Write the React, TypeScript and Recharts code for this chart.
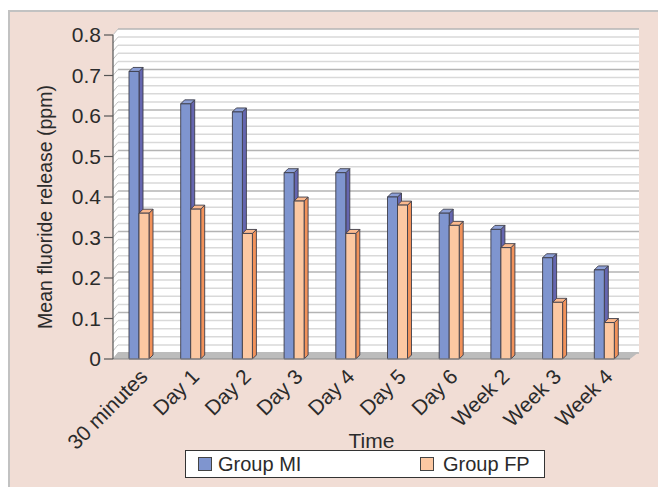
import { Bar, BarChart, Legend, ReferenceArea, ReferenceLine, XAxis, YAxis } from "recharts";

const categories = ["30 minutes", "Day 1", "Day 2", "Day 3", "Day 4", "Day 5", "Day 6", "Week 2", "Week 3", "Week 4"];
const groupMI = [0.71, 0.63, 0.61, 0.46, 0.46, 0.4, 0.36, 0.32, 0.25, 0.22];
const groupFP = [0.36, 0.37, 0.31, 0.39, 0.31, 0.38, 0.33, 0.275, 0.14, 0.09];
const yTicks = [0, 0.1, 0.2, 0.3, 0.4, 0.5, 0.6, 0.7, 0.8];
// minor gridlines every 0.02
const gridValues = Array.from({ length: 41 }, (_, i) => +(i * 0.02).toFixed(2));

const data = categories.map((name, i) => ({ name, mi: groupMI[i], fp: groupFP[i] }));

const FONT = "'Liberation Sans', Arial, sans-serif";
const BG = "#f1ddd5";
const WALL_X = 5;
const WALL_Y = 6;
const WALL_R = 9;

const bar3d = (front: string, side: string, top: string) => (props: any) => {
	const { x, y, width, height } = props;
	if (!height || height <= 0) return <g />;
	const d = 4;
	return (
		<g stroke="#3d3d4a" strokeWidth={0.9} strokeLinejoin="round">
			<polygon
				points={`${x + width},${y} ${x + width + d},${y - d} ${x + width + d},${y + height - d} ${x + width},${y + height}`}
				fill={side}
			/>
			<polygon
				points={`${x},${y} ${x + d},${y - d} ${x + width + d},${y - d} ${x + width},${y}`}
				fill={top}
			/>
			<rect x={x} y={y} width={width} height={height} fill={front} />
		</g>
	);
};

const Walls = (props: any) => {
	const { x, y, width, height } = props;
	return (
		<g>
			<polygon
				points={`${x},${y + height} ${x},${y} ${x + WALL_X},${y - WALL_Y} ${x + WALL_X},${y + height - WALL_Y}`}
				fill="#ffffff"
			/>
			<rect x={x + WALL_X} y={y - WALL_Y} width={width - WALL_X + WALL_R} height={height} fill="#ffffff" />
		</g>
	);
};

const gridLine = (major: boolean) => (props: any) => {
	const { x1, y1, x2 } = props;
	return (
		<g>
			<line x1={x1 + WALL_X} y1={y1 - WALL_Y} x2={x2 + WALL_R} y2={y1 - WALL_Y} stroke={major ? "#b4b4b4" : "#d9d9d9"} strokeWidth={1.5} />
			<line x1={x1} y1={y1} x2={x1 + WALL_X} y2={y1 - WALL_Y} stroke="#c4c4c4" strokeWidth={1} />
		</g>
	);
};

const Floor = (props: any) => {
	const { x1, y1, x2 } = props;
	return (
		<polygon
			points={`${x1},${y1} ${x2},${y1} ${x2 + WALL_R},${y1 - WALL_Y - 1} ${x1 + WALL_X},${y1 - WALL_Y - 1}`}
			fill="#bcbcbc"
		/>
	);
};

const XTick = (props: any) => {
	const { x, y, payload } = props;
	return (
		<text
			x={x + 10}
			y={y + 17}
			transform={`rotate(-45 ${x + 10} ${y + 17})`}
			textAnchor="end"
			fontSize={21}
			fontFamily={FONT}
			fill="#2b2b2b"
		>
			{payload.value}
		</text>
	);
};

const YLabel = (props: any) => {
	const { viewBox } = props;
	const cx = viewBox.x + 42;
	const cy = viewBox.y + viewBox.height / 2 + 10;
	return (
		<text x={cx} y={cy} transform={`rotate(-90 ${cx} ${cy})`} textAnchor="middle" fontSize={19.5} fontFamily={FONT} fill="#2b2b2b">
			Mean fluoride release (ppm)
		</text>
	);
};

const LegendBox = () => (
	<div
		style={{
			position: "relative",
			boxSizing: "border-box",
			width: 360,
			height: 28,
			background: "#ffffff",
			border: "1.5px solid #333",
			fontFamily: FONT,
			fontSize: 20,
			color: "#2b2b2b",
		}}
	>
		<span style={{ position: "absolute", left: 12, top: 6, width: 12, height: 12, background: "#7f95cf", border: "1px solid #444" }} />
		<span style={{ position: "absolute", left: 32, top: 1, lineHeight: "24px" }}>Group MI</span>
		<span style={{ position: "absolute", left: 234, top: 6, width: 12, height: 12, background: "#fcc8a2", border: "1px solid #444" }} />
		<span style={{ position: "absolute", left: 257, top: 1, lineHeight: "24px" }}>Group FP</span>
	</div>
);

export default function App() {
	return (
		<div
			style={{
				position: "absolute",
				left: 8,
				top: 10,
				width: 650,
				height: 477,
				background: BG,
				borderLeft: "2px solid #c2c2c2",
				borderTop: "2px solid #c2c2c2",
			}}
		>
			<BarChart
				width={648}
				height={475}
				data={data}
				margin={{ top: 23, right: 28, bottom: 9, left: 0 }}
				barSize={10}
				barGap={0}
			>
				<ReferenceArea y1={0} y2={0.8} shape={<Walls />} fill="#fff" fillOpacity={1} stroke="none" zIndex={-60} />
				{gridValues.map((v, i) => (
					<ReferenceLine key={v} y={v} shape={gridLine(i % 5 === 0)} zIndex={-50} />
				))}
				<ReferenceLine y={0} shape={Floor} zIndex={-40} />
				<XAxis
					dataKey="name"
					interval={0}
					tick={<XTick />}
					tickLine={false}
					tickSize={0}
					axisLine={{ stroke: "#8a8a8a", strokeWidth: 1 }}
					height={91}
					label={{ value: "Time", position: "insideBottom", offset: 2, fontSize: 21, fontFamily: FONT, fill: "#2b2b2b" }}
				/>
				<YAxis
					domain={[0, 0.8]}
					ticks={yTicks}
					interval={0}
					width={103}
					tickSize={9}
					tickMargin={3}
					axisLine={{ stroke: "#555", strokeWidth: 1.2 }}
					tickLine={{ stroke: "#555", strokeWidth: 1.2 }}
					tick={{ fontSize: 21, fontFamily: FONT, fill: "#2b2b2b" }}
					label={<YLabel />}
				/>
				<Bar dataKey="mi" name="Group MI" isAnimationActive={false} shape={bar3d("#7f95cf", "#6566b0", "#8c9fd6")} />
				<Bar dataKey="fp" name="Group FP" isAnimationActive={false} shape={bar3d("#fcc8a2", "#f2925a", "#fbb98e")} />
				<Legend verticalAlign="bottom" height={28} wrapperStyle={{ left: 175, width: 360 }} content={<LegendBox />} />
			</BarChart>
		</div>
	);
}
